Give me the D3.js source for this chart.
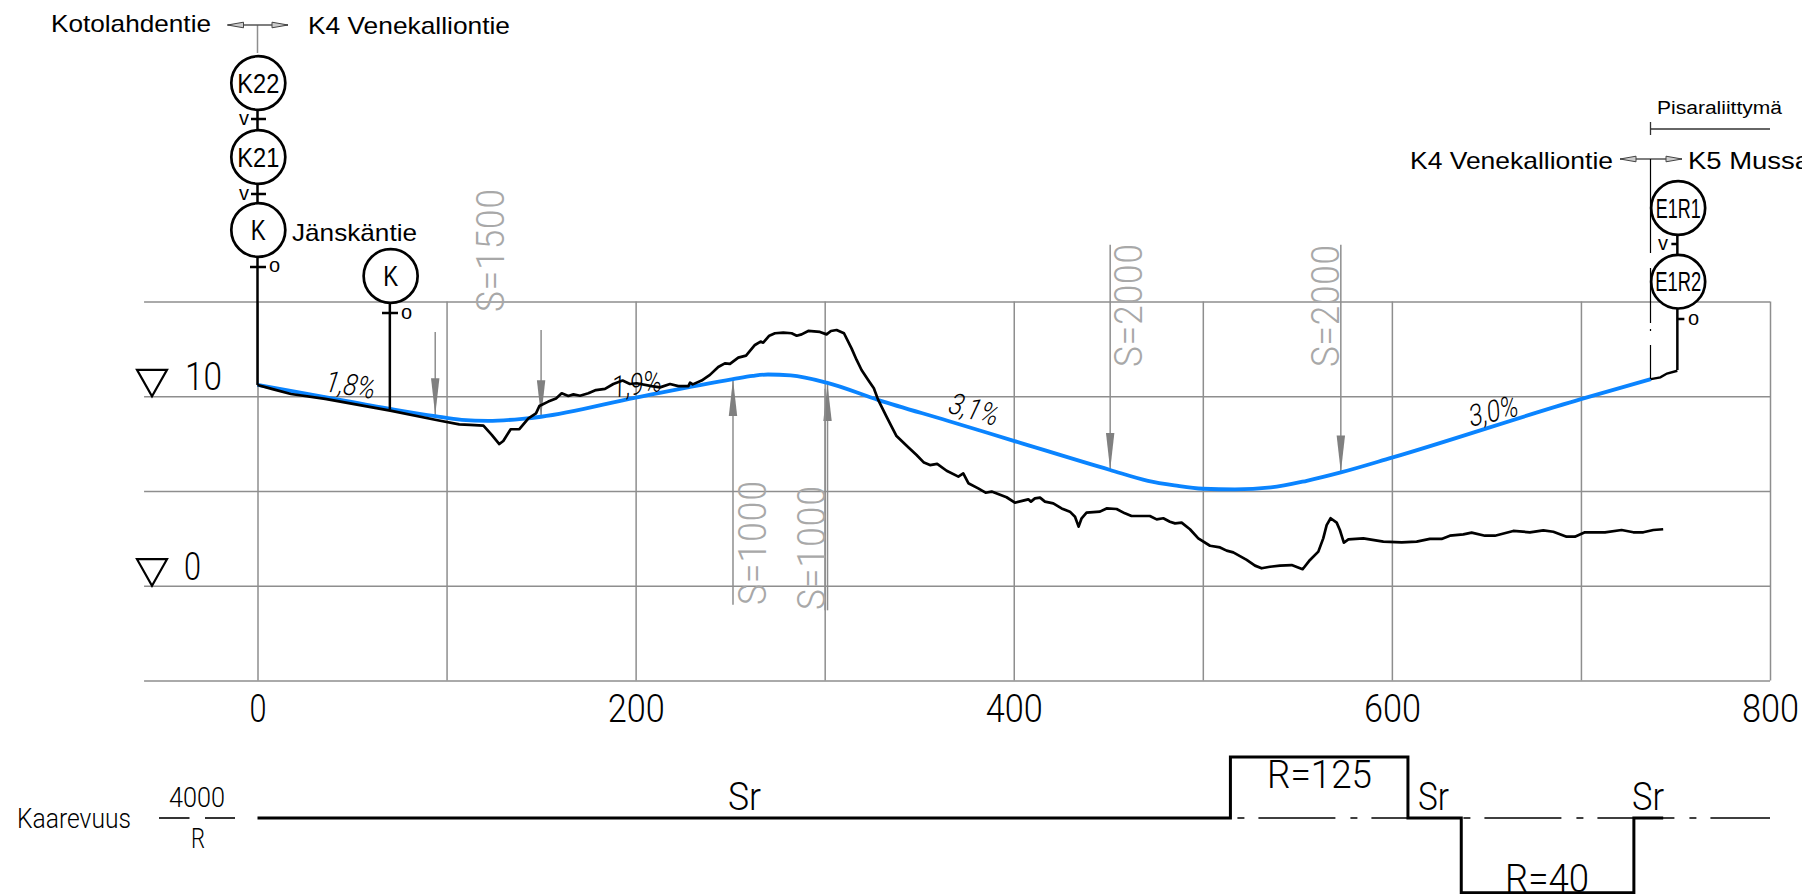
<!DOCTYPE html>
<html>
<head>
<meta charset="utf-8">
<script src="https://cdn.jsdelivr.net/npm/d3@7/dist/d3.min.js"></script>
<style>
  html, body { margin: 0; background: #fff; overflow: hidden; }
  svg { display: block; }
  text { font-family: "Liberation Sans", sans-serif; }
  .cad { font-family: Roboto, sans-serif; font-weight: 300; }
</style>
</head>
<body>
<svg id="chart" width="1802" height="894"></svg>
<script>
// chainage (m) and elevation (m)
const gridChainage = [0, 100, 200, 300, 400, 500, 600, 700, 800];
const gridElevation = [-5, 0, 5, 10, 15];
const tickChainage = [0, 200, 400, 600, 800];

const designChainage = [0, 35, 70, 94, 108, 122, 140, 150, 200, 251.5, 262, 270, 282, 301, 328.5, 365, 400, 451, 471, 485, 500, 517, 536, 555, 573, 600, 700, 737];
const designElevation = [10.6, 9.97, 9.34, 8.95, 8.76, 8.70, 8.81, 8.92, 9.93, 10.91, 11.08, 11.15, 11.1, 10.72, 9.8, 8.71, 7.65, 6.11, 5.54, 5.3, 5.12, 5.09, 5.19, 5.54, 5.98, 6.76, 9.85, 10.91];

const groundChainage = [0, 8, 17.7, 35.8, 70.2, 94.6, 106.7,
    112.4, 119.5, 123.9, 127.9, 130, 133.9, 138.5, 143.3, 147.3, 149.1, 153.8, 157.9, 160.9, 164.4, 167.1, 170.6, 175, 179, 183.8, 188.2, 193.1, 197, 200.5, 208.5, 212.9, 218.2, 222.6, 227.9, 228.8, 230.2, 234.9, 239.3, 243.7,
    247.2, 249.9, 254.3, 258.4, 263.1, 266.1, 267.5, 270.7, 273.7, 278.1, 282.5, 285.2, 287.8, 291.3, 297.5, 301, 303.3, 306.3, 310.2, 314.2, 316.9, 319.5, 323, 326, 328.3, 332.7, 335.4, 338, 344.2, 348.6, 352.5, 355.7, 359.5, 364.5, 370.7, 373.3, 376, 381.2, 385.1, 388.3, 396.2,
    400.6, 405, 407.7, 409.1, 411.2, 413.9, 416.5, 420.9, 425.3, 429.7, 432.4, 434.3, 435.9, 438.5, 445.6, 449.1, 454.4, 458.8, 462.3, 472, 475.6, 479.1, 482.6, 485.3, 488.8, 493.2, 497.6, 503.8, 509.1, 512.6, 516.1, 523.2, 527.6, 531.1, 535.5,
    540.8, 547, 552.8, 556.7, 561.1, 563.7, 565.5, 567.6, 570.8, 572.5, 574.6, 577, 584.9, 595.5, 605.2, 613.1, 620.1, 626.3, 630.7, 637.8, 642.2, 649.2, 654.5, 664.2, 673, 680.1, 685.4, 692.4, 696.8, 702.1, 712.7, 721.5, 727.7, 733, 738.3, 743.5];
const groundElevation = [10.6, 10.38, 10.12, 9.86, 9.24, 8.75, 8.52,
    8.49, 8.45, 7.96, 7.48, 7.64, 8.26, 8.27, 8.84, 9.1, 9.49, 9.72, 9.89, 10.16, 10.02, 10.1, 10.03, 10.16, 10.33, 10.39, 10.65, 10.83, 10.65, 10.69, 10.54, 10.47, 10.65, 10.54, 10.54, 10.72, 10.63, 10.83, 11.13, 11.55,
    11.74, 11.71, 12.04, 12.15, 12.71, 12.89, 12.83, 13.2, 13.33, 13.36, 13.33, 13.2, 13.27, 13.45, 13.4, 13.27, 13.45, 13.5, 13.33, 12.53, 11.92, 11.39, 10.86, 10.42, 9.81, 8.93, 8.4, 7.9, 7.31, 6.9, 6.5, 6.37, 6.43, 6.07, 5.76, 5.93, 5.41, 5.14, 4.91, 4.97, 4.67,
    4.38, 4.49, 4.56, 4.44, 4.61, 4.65, 4.44, 4.35, 4.08, 3.91, 3.64, 3.12, 3.56, 3.86, 3.91, 4.08, 4.05, 3.82, 3.68, 3.68, 3.5, 3.56, 3.38, 3.29, 3.33, 2.98, 2.5, 2.11, 2.02, 1.85, 1.76, 1.36, 1.06, 0.92, 1.0,
    1.06, 1.09, 0.87, 1.36, 1.8, 2.5, 3.2, 3.56, 3.33, 2.94, 2.27, 2.45, 2.5, 2.33, 2.29, 2.33, 2.47, 2.47, 2.64, 2.71, 2.8, 2.64, 2.64, 2.89, 2.82, 2.92, 2.85, 2.59, 2.59, 2.82, 2.82, 2.94, 2.82, 2.82, 2.94, 2.98];

const stubChainage = [737, 742, 745.5, 751];
const stubElevation = [10.91, 11.0, 11.2, 11.35];

// vertical curve arrows
const arrowDownChainage = [94, 150, 451, 573];
const arrowDownTail = [13.4, 13.5, 18, 18];
const arrowDownTip = [9.0, 8.9, 6.11, 5.98];
const arrowUpChainage = [251.5, 301.5];
const arrowUpTail = [-1, -1.3];
const arrowUpTip = [10.91, 10.65];

const curveLabels = ["S=1500", "S=1000", "S=1000", "S=2000", "S=2000"];
const slopeLabels = ["1,8%", "1,9%", "3,1%", "3,0%"];

// curvature band, 4000/R
const curvatureChainage = [0, 514.6, 514.6, 608.5, 608.5, 636.7, 636.7, 728, 728, 743.5];
const curvatureValue = [0, 0, 32, 32, 0, 0, -100, -100, 0, 0];

const W = 1802, H = 894;
const X = d3.scaleLinear().domain([0, 800]).range([257.5, 1770]);
const Y = d3.scaleLinear().domain([0, 10]).range([585.7, 396.3]);
const K = d3.scaleLinear().domain([-100, 0, 32]).range([892.7, 818, 757]);

const svg = d3.select("#chart");
const gray = "#8e8e8e";

function txt(str, x, y, size, len, opt = {}) {
    const t = svg.append("text")
        .attr("x", x).attr("y", y)
        .attr("font-size", size)
        .attr("fill", opt.fill || "#000")
        .attr("text-anchor", opt.anchor || "start")
        .text(str);
    if (len) t.attr("textLength", len).attr("lengthAdjust", opt.adjust || "spacingAndGlyphs");
    if (opt.cad) t.attr("class", "cad");
    if (opt.transform) t.attr("transform", opt.transform);
    return t;
}

function seg(x1, y1, x2, y2, color = "#000", w = 2.5) {
    return svg.append("line")
        .attr("x1", x1).attr("y1", y1).attr("x2", x2).attr("y2", y2)
        .attr("stroke", color).attr("stroke-width", w);
}

// grid
const gridV = d3.axisBottom(X).tickValues(gridChainage).tickSize(Y(-5) - Y(15)).tickFormat("");
svg.append("g").attr("transform", `translate(0,${Y(15)})`).call(gridV)
    .call(g => g.select(".domain").remove())
    .selectAll("line").attr("stroke", gray).attr("stroke-width", 1.5);

const gridH = d3.axisLeft(Y).tickValues(gridElevation).tickSize(X(800) - X(-60)).tickFormat("");
svg.append("g").attr("transform", `translate(${X(800)},0)`).call(gridH)
    .call(g => g.select(".domain").remove())
    .selectAll("line").attr("stroke", gray).attr("stroke-width", 1.5);

// chainage labels
svg.append("g").attr("transform", `translate(0,${Y(-5)})`)
    .call(d3.axisBottom(X).tickValues(tickChainage).tickSize(0).tickPadding(0).tickFormat(d3.format("d")))
    .call(g => g.select(".domain").remove())
    .selectAll("text")
    .attr("class", "cad").attr("dy", 0).attr("y", 42)
    .attr("font-size", 38).attr("fill", "#000")
    .attr("textLength", d => d === 0 ? 17 : 57)
    .attr("lengthAdjust", "spacingAndGlyphs");

// elevation marks
[[10, "10", 185, 37, 390], [0, "0", 184, 17, 580]].forEach(([lev, s, tx, len, base]) => {
    const tip = Y(lev);
    svg.append("path")
        .attr("d", `M137,${tip - 26.5}L167,${tip - 26.5}L152,${tip}Z`)
        .attr("fill", "none").attr("stroke", "#000").attr("stroke-width", 2.2);
    txt(s, tx, base, 39, len, { cad: true });
});

// curve arrows
function arrow(cx, tail, tip, baseOffset) {
    const x = X(cx), yTip = Y(tip);
    seg(x, Y(tail), x, yTip, gray, 1.5);
    svg.append("path")
        .attr("d", `M${x - 4.2},${yTip + baseOffset}L${x + 4.2},${yTip + baseOffset}L${x},${yTip}Z`)
        .attr("fill", "#808080");
}
arrowDownChainage.forEach((c, i) => arrow(c, arrowDownTail[i], arrowDownTip[i], -37));
arrowUpChainage.forEach((c, i) => arrow(c, arrowUpTail[i], arrowUpTip[i], 37));
seg(X(arrowUpChainage[1]) - 2.5, Y(-1.3), X(arrowUpChainage[1]) - 2.5, Y(10.4), gray, 1.3);

// curve radii, narrow glyphs with open spacing
const sFill = "#a8a8a8";
const squeeze = 0.9;
[[504, 312, 123], [766, 605, 124], [825, 610, 124], [1142, 367, 123], [1338.6, 367, 122]].forEach(([bx, by, len], i) => {
    txt(curveLabels[i], 0, 0, 39, len / squeeze, {
        cad: true, fill: sFill, adjust: "spacing",
        transform: `translate(${bx},${by}) rotate(-90) scale(${squeeze},1)`
    });
});

// design line and ground
const line = d3.line().x(d => X(d[0])).y(d => Y(d[1]));
svg.append("path").datum(d3.zip(designChainage, designElevation))
    .attr("d", line.curve(d3.curveMonotoneX))
    .attr("fill", "none").attr("stroke", "#0a84ff").attr("stroke-width", 3.8);
line.curve(d3.curveLinear);
svg.append("path").datum(d3.zip(groundChainage, groundElevation))
    .attr("d", line)
    .attr("fill", "none").attr("stroke", "#000").attr("stroke-width", 2.7).attr("stroke-linejoin", "round");
svg.append("path").datum(d3.zip(stubChainage, stubElevation))
    .attr("d", line)
    .attr("fill", "none").attr("stroke", "#000").attr("stroke-width", 2.4);

// slope labels
[[323, 391, 9], [612, 398, -8], [946, 412, 16], [1470, 427, -13]].forEach(([x, y, a], i) => {
    txt(slopeLabels[i], 0, 0, 30, 50, { cad: true, transform: `translate(${x},${y}) rotate(${a}) skewX(-9)` });
});

// road signs
function sign(cx, cy, label, len, size = 27) {
    const x = X(cx) + 0.8;
    svg.append("ellipse").attr("cx", x).attr("cy", cy).attr("rx", 27).attr("ry", 26.8)
        .attr("fill", "#fff").attr("stroke", "#000").attr("stroke-width", 2.7);
    txt(label, x, cy + (size > 27 ? 10 : 9.5), size, len, { anchor: "middle" });
}

function smallArrows(x1, x2, y) {
    seg(x1, y, x2, y, "#555", 1.4);
    [[x1, 16], [x2, -16]].forEach(([px, d]) => {
        svg.append("path")
            .attr("d", `M${px},${y}L${px + d},${y - 2.8}L${px + d},${y + 2.8}Z`)
            .attr("fill", "#ccc").attr("stroke", "#444").attr("stroke-width", 1);
    });
}

// left post
const x0 = X(0), xPost = X(70);
seg(x0, 25, x0, 53, gray, 1.5);
smallArrows(227.5, 288, 25);
seg(x0, 109, x0, 132);
seg(x0, 182, x0, 205);
seg(x0, 257, x0, Y(10.6));
seg(xPost, 303, xPost, Y(9.3));
seg(251, 119, 266, 119);
seg(251, 194, 266, 194);
seg(250, 267, 266, 267);
seg(382, 313, 398, 313);
sign(0, 83, "K22", 42);
sign(0, 157, "K21", 42);
sign(0, 230, "K", 15, 30);
sign(70, 276, "K", 15, 30);
txt("v", 239, 125, 20);
txt("v", 239, 200, 20);
txt("o", 269, 272, 20);
txt("o", 401, 319, 20);
txt("Kotolahdentie", 51, 32, 24, 160);
txt("K4 Venekalliontie", 308, 34, 24, 202);
txt("Jänskäntie", 292, 241, 24, 125);

// right post
const xr = X(751);
txt("Pisaraliittymä", 1657, 114, 18, 125);
seg(1650.5, 129, 1770, 129, "#333", 1.3);
seg(1650.5, 122, 1650.5, 135, "#333", 1.3);
txt("K4 Venekalliontie", 1410, 169, 24, 203);
smallArrows(1620, 1682, 159);
txt("K5 Mussa", 1688, 169, 24, 122);
seg(1650.5, 159, 1650.5, Y(10.91), "#000", 1.2).attr("stroke-dasharray", "94 15 55 6 2 14 34");
seg(xr, 235, xr, 255);
seg(xr, 309, xr, 370);
seg(xr - 6, 244, xr, 244);
seg(xr, 319, xr + 7, 319);
sign(751, 208, "E1R1", 45);
sign(751, 281.7, "E1R2", 46);
txt("v", 1658, 250, 20);
txt("o", 1688, 325, 20);

// curvature band
seg(X(514.6), K(0), X(800), K(0), "#000", 1.3).attr("stroke-dasharray", "77 15 7 14").attr("stroke-dashoffset", 85);
svg.append("path").datum(d3.zip(curvatureChainage, curvatureValue))
    .attr("d", d3.line().x(d => X(d[0])).y(d => K(d[1])))
    .attr("fill", "none").attr("stroke", "#000").attr("stroke-width", 3).attr("stroke-linejoin", "miter");

txt("Kaarevuus", 17, 828, 28, 114, { cad: true });
txt("4000", 169, 807, 27, 56, { cad: true });
txt("R", 191, 848, 27, 14, { cad: true });
seg(159, 818, 189.5, 818, "#000", 1.6);
seg(205, 818, 235, 818, "#000", 1.6);
txt("Sr", 728, 810, 38, 33, { cad: true });
txt("Sr", 1418, 810, 38, 31, { cad: true });
txt("Sr", 1632, 810, 38, 32, { cad: true });
txt("R=125", 1267, 788, 38, 105, { cad: true });
txt("R=40", 1505, 892, 38, 84, { cad: true });
</script>
</body>
</html>
